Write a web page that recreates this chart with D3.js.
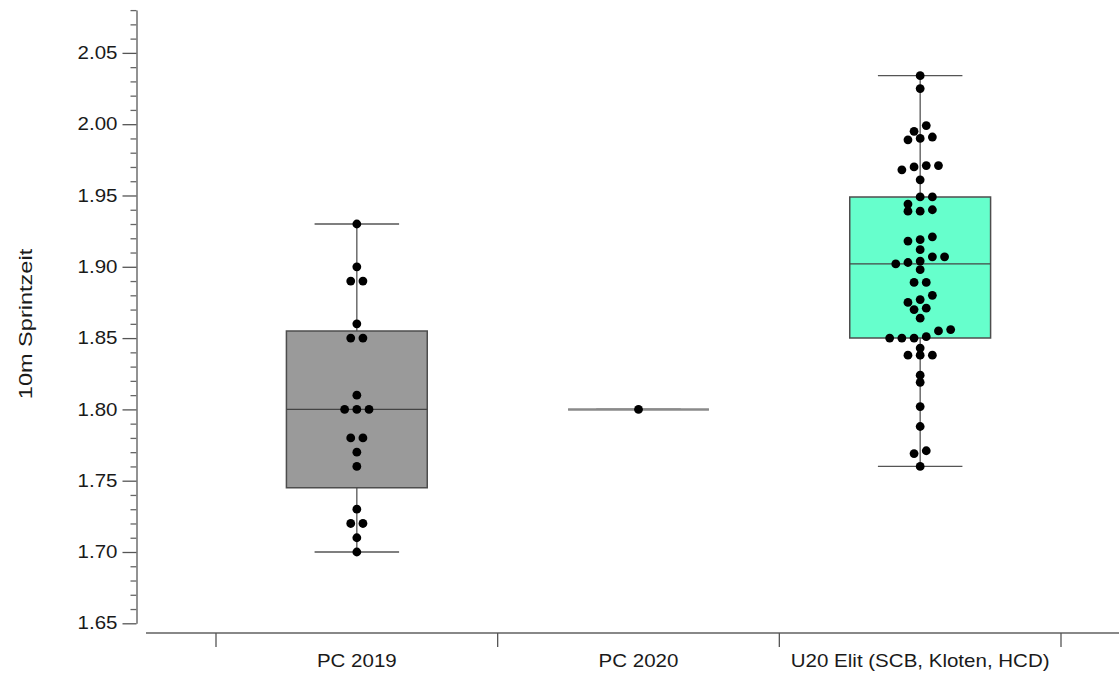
<!DOCTYPE html>
<html>
<head>
<meta charset="utf-8">
<script src="https://cdn.jsdelivr.net/npm/d3@7"></script>
<style>
  body { margin: 0; background: #fff; }
  text { font-family: "Liberation Sans", Arial, Helvetica, sans-serif; fill: #1a1a1a; }
</style>
</head>
<body>
<svg id="chart" width="1119" height="675"></svg>
<script>
// groups and 10m sprint times (s)
const groups = ["PC 2019", "PC 2020", "U20 Elit (SCB, Kloten, HCD)"];

const pc2019 = [1.93, 1.90, 1.89, 1.89, 1.86, 1.85, 1.85, 1.81, 1.80, 1.80, 1.80,
  1.78, 1.78, 1.77, 1.76, 1.73, 1.72, 1.72, 1.71, 1.70];

const pc2020 = [1.80];

const u20 = [2.034, 2.025, 1.999, 1.995, 1.991, 1.990, 1.989,
  1.971, 1.971, 1.970, 1.968, 1.961, 1.949, 1.949, 1.944,
  1.940, 1.939, 1.939, 1.921, 1.919, 1.918, 1.912,
  1.907, 1.907, 1.904, 1.903, 1.902, 1.898, 1.889, 1.889,
  1.880, 1.877, 1.875, 1.871, 1.870, 1.864,
  1.856, 1.855, 1.851, 1.850, 1.850, 1.850, 1.843, 1.838, 1.838, 1.838,
  1.824, 1.819, 1.802, 1.788, 1.771, 1.769, 1.760];

const groupValues = [pc2019, pc2020, u20];
const boxColors = ["#9a9a9a", "#9a9a9a", "#66ffcc"];

const yTickValues = [1.65, 1.70, 1.75, 1.80, 1.85, 1.90, 1.95, 2.00, 2.05];
const yLabel = "10m Sprintzeit";

// layout
const svg = d3.select("#chart");
const axisX = 136.5, xAxisY = 633;
const fontSize = 17.7, stretch = 1.16;

const y = d3.scaleLinear().domain([1.65, 2.08]).range([623.3, 10.1]);
const x = d3.scaleBand().domain(groups).range([216, 1061]).padding(0);

// tukey hinges, whiskers to min / max
function boxStats(values) {
    const s = values.slice().sort(d3.ascending);
    const h = Math.ceil(s.length / 2);
    return {
        min: s[0],
        q1: d3.median(s.slice(0, h)),
        med: d3.median(s),
        q3: d3.median(s.slice(s.length - h)),
        max: s[s.length - 1]
    };
}

// centred rows: values binned on a fixed pixel grid, sorted left to right
const dotSpacing = 12.2, binH = 12, binOrigin = 3.9;
function swarm(values) {
    const pts = values.map(v => ({ v: v, py: y(v) }));
    const rows = d3.group(pts, d => Math.floor((d.py - binOrigin) / binH));
    rows.forEach(row => {
        row.sort((a, b) => a.v - b.v);
        row.forEach((d, i) => { d.dx = (i - (row.length - 1) / 2) * dotSpacing; });
    });
    return pts;
}

// y axis: minor ticks first, then major ticks with labels
const minorTicks = d3.range(166, 209).filter(d => d % 5 !== 0).map(d => d / 100);

svg.append("g")
    .attr("transform", `translate(${axisX},0)`)
    .call(d3.axisLeft(y).tickValues(minorTicks).tickSize(6).tickFormat(""))
    .call(g => g.select(".domain").remove())
    .call(g => g.selectAll("line").attr("stroke", "#666").attr("stroke-width", 1.3));

const yAxis = svg.append("g")
    .attr("transform", `translate(${axisX},0)`)
    .call(d3.axisLeft(y).tickValues(yTickValues).tickFormat(d3.format(".2f"))
        .tickSize(14).tickSizeOuter(0));

yAxis.select(".domain").attr("stroke", "#777").attr("stroke-width", 1.6);
yAxis.selectAll(".tick line").attr("stroke", "#555").attr("stroke-width", 1.3);
yAxis.selectAll(".tick text")
    .attr("x", -19 / stretch)
    .attr("transform", `scale(${stretch},1)`)
    .style("font-size", fontSize + "px")
    .style("font-family", "'Liberation Sans', Arial, sans-serif")
    .attr("fill", "#1a1a1a");

svg.append("text")
    .attr("transform", `translate(26,324) rotate(-90) scale(1.33,1)`)
    .attr("text-anchor", "middle")
    .attr("dy", "0.35em")
    .style("font-size", fontSize + "px")
    .text(yLabel);

// x axis: detached line, ticks at band edges, labels at band centres
svg.append("line")
    .attr("x1", 146).attr("x2", 1119)
    .attr("y1", xAxisY).attr("y2", xAxisY)
    .attr("stroke", "#888").attr("stroke-width", 2);

const edges = groups.map(g => x(g)).concat([x.range()[1]]);
svg.selectAll(".edge")
    .data(edges)
    .enter()
    .append("line")
    .attr("class", "edge")
    .attr("x1", d => d).attr("x2", d => d)
    .attr("y1", xAxisY).attr("y2", xAxisY + 14)
    .attr("stroke", "#555").attr("stroke-width", 1.3);

const xAxis = svg.append("g")
    .attr("transform", `translate(${x.bandwidth() / 2 - x.bandwidth() / 2},${xAxisY})`)
    .call(d3.axisBottom(x).tickSize(0));
xAxis.select(".domain").remove();
xAxis.selectAll(".tick text")
    .attr("y", 34)
    .attr("dy", 0)
    .attr("transform", `scale(${stretch},1)`)
    .style("font-size", fontSize + "px")
    .style("font-family", "'Liberation Sans', Arial, sans-serif")
    .attr("fill", "#1a1a1a");

// boxes, whiskers and dots
const boxW = x.bandwidth() * 0.5, capW = x.bandwidth() * 0.3;

groups.forEach((g, i) => {
    const s = boxStats(groupValues[i]);
    const cx = x(g) + x.bandwidth() / 2;
    const grp = svg.append("g");

    // whiskers
    grp.append("line")
        .attr("x1", cx).attr("x2", cx)
        .attr("y1", y(s.q3)).attr("y2", y(s.max))
        .attr("stroke", "#555").attr("stroke-width", 1.3);
    grp.append("line")
        .attr("x1", cx).attr("x2", cx)
        .attr("y1", y(s.q1)).attr("y2", y(s.min))
        .attr("stroke", "#555").attr("stroke-width", 1.3);
    [s.min, s.max].forEach(v => {
        grp.append("line")
            .attr("x1", cx - capW / 2).attr("x2", cx + capW / 2)
            .attr("y1", y(v)).attr("y2", y(v))
            .attr("stroke", "#555").attr("stroke-width", 1.3);
    });

    // box as a path so a zero-height box still shows its outline
    grp.append("path")
        .attr("d", `M${cx - boxW / 2},${y(s.q3)}H${cx + boxW / 2}V${y(s.q1)}H${cx - boxW / 2}Z`)
        .attr("fill", boxColors[i])
        .attr("stroke", i === 1 ? "#8a8a8a" : "#4d4d4d")
        .attr("stroke-width", i === 1 ? 2 : 1.5);

    grp.append("line")
        .attr("x1", cx - boxW / 2).attr("x2", cx + boxW / 2)
        .attr("y1", y(s.med)).attr("y2", y(s.med))
        .attr("stroke", i === 1 ? "#8a8a8a" : "#444").attr("stroke-width", i === 1 ? 2 : 1.3);

    grp.selectAll("circle")
        .data(swarm(groupValues[i]))
        .enter()
        .append("circle")
        .attr("cx", d => cx + d.dx)
        .attr("cy", d => d.py)
        .attr("r", 4.4)
        .attr("fill", "#000");
});
</script>
</body>
</html>
